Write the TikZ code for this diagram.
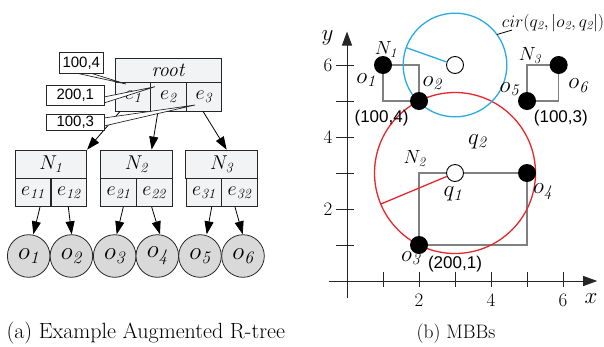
\RequirePackage{fix-cm}
\documentclass[tikz,border=0pt]{standalone}
\usepackage{fontspec}
\newfontfamily\sansf{Liberation Sans}
\usetikzlibrary{arrows.meta,calc}
\definecolor{boxfill}{RGB}{242,243,245}
\definecolor{objfill}{RGB}{217,217,217}
\definecolor{mbbgray}{RGB}{128,128,128}
\definecolor{cred}{RGB}{232,38,44}
\definecolor{cblue}{RGB}{41,171,226}
\begin{document}
\begin{tikzpicture}[x=1pt,y=-1pt,
  hdr/.style={draw=black!85, fill=boxfill, line width=0.8pt, inner sep=0pt, font=\fontsize{20}{24}\selectfont},
  cell/.style={hdr, minimum width=35.7pt, minimum height=28.3pt},
  objc/.style={circle, draw=black!85, fill=objfill, line width=0.8pt, minimum size=42.6pt, inner sep=0pt, font=\fontsize{25}{30}\selectfont},
  arr/.style={-{Triangle[length=13pt,width=9pt]}, line width=0.8pt},
  callout/.style={draw=black!85, fill=white, line width=0.8pt, inner sep=0pt, font=\sansf\fontsize{15}{18}\selectfont},
  wedgeline/.style={draw=black!85, fill=white, line width=0.7pt},
  axisline/.style={line width=1pt, draw=black!85, -{Triangle[length=14pt,width=10pt]}},
  tickline/.style={line width=1pt, draw=black!85},
  ticklab/.style={font=\fontsize{19}{22}\selectfont},
  mbb/.style={draw=mbbgray, line width=1.6pt},
  blackdot/.style={circle, fill=black, minimum size=18pt, inner sep=0pt},
  hollowdot/.style={circle, draw=black, fill=white, line width=0.9pt, minimum size=17pt, inner sep=0pt},
  olab/.style={font=\fontsize{23}{26}\selectfont},
  nlab/.style={font=\fontsize{19}{22}\selectfont},
  slab/.style={font=\sansf\fontsize{17}{20}\selectfont},
  captext/.style={font=\fontsize{22}{26}\selectfont}
]
\useasboundingbox (0,0) rectangle (604,346);

% ---------- (a) tree ----------
\node[hdr, minimum width=106.7pt, minimum height=24.4pt] (root) at (168.35,70.5) {\textit{root}};
\node[cell] (e1) at (133.1,96.8) {$e_{\mathit{1}}$};
\node[cell] (e2) at (168.4,96.8) {$e_{\mathit{2}}$};
\node[cell] (e3) at (203.8,96.8) {$e_{\mathit{3}}$};

\node[hdr, minimum width=71.7pt, minimum height=28.3pt] (N1) at (50.85,164.2) {$N_{\mathit{1}}$};
\node[cell] (e11) at (32.9,192.5) {$e_{\mathit{11}}$};
\node[cell] (e12) at (68.8,192.5) {$e_{\mathit{12}}$};
\node[hdr, minimum width=71.7pt, minimum height=28.3pt] (N2) at (136.35,164.2) {$N_{\mathit{2}}$};
\node[cell] (e21) at (118.5,192.5) {$e_{\mathit{21}}$};
\node[cell] (e22) at (154.2,192.5) {$e_{\mathit{22}}$};
\node[hdr, minimum width=71.7pt, minimum height=28.3pt] (N3) at (221.65,164.2) {$N_{\mathit{3}}$};
\node[cell] (e31) at (203.8,192.5) {$e_{\mathit{31}}$};
\node[cell] (e32) at (239.5,192.5) {$e_{\mathit{32}}$};

\node[objc] (ob1) at (28.7,256) {$o_{\mathit{1}}$};
\node[objc] (ob2) at (71.4,256) {$o_{\mathit{2}}$};
\node[objc] (ob3) at (114.7,256) {$o_{\mathit{3}}$};
\node[objc] (ob4) at (157.3,256) {$o_{\mathit{4}}$};
\node[objc] (ob5) at (200.0,256) {$o_{\mathit{5}}$};
\node[objc] (ob6) at (243.0,256) {$o_{\mathit{6}}$};

\draw[arr] ($(e1.south)+(-13,0)$) -- (N1.north east);
\draw[arr] ($(e2.south)+(-10.4,0)$) -- ($(N2.north)+(15.3,0)$);
\draw[arr] ($(e3.south)+(-0.8,0)$) -- ($(N3.north)+(5,0)$);

\draw[arr] ($(e11.south)+(7.1,0)$) -- ($(ob1.north)+(4.6,0)$);
\draw[arr] ($(e12.south)+(-0.5,0)$) -- ($(ob2.north)+(0.3,0)$);
\draw[arr] ($(e21.south)+(4.8,0)$) -- ($(ob3.north)+(2,0)$);
\draw[arr] ($(e22.south)+(-2.5,0)$) -- ($(ob4.north)+(2.7,0)$);
\draw[arr] ($(e31.south)+(7.9,0)$) -- ($(ob5.north)+(6.7,0)$);
\draw[arr] ($(e32.south)+(-4.5,0)$) -- ($(ob6.north)+(-0.3,0)$);

% callouts
\coordinate (c1) at (81.3,63);
\coordinate (c2) at (75.3,95);
\coordinate (c3) at (75.3,122);
\coordinate (t1) at (126,84);
\coordinate (t2) at (155,86.7);
\coordinate (t3) at (195,105);
\draw[wedgeline] ($(c1)+(-4,10.3)$) -- (t1) -- ($(c1)+(10,10.3)$);
\draw[wedgeline] ($(c2)+(28.65,2)$) -- (t2) -- ($(c2)+(28.65,8)$);
\draw[wedgeline] ($(c3)+(28.65,-4)$) -- (t3) -- ($(c3)+(28.65,4)$);
\node[callout, minimum width=44pt, minimum height=20.6pt] (k1) at (c1) {100,4};
\node[callout, minimum width=57.3pt, minimum height=20pt] (k2) at (c2) {200,1};
\node[callout, minimum width=57.3pt, minimum height=16pt] (k3) at (c3) {100,3};

\node[captext, anchor=base west] (capa) at (3,338) {(a) Example Augmented R-tree};

% ---------- (b) MBBs ----------
\begin{scope}[shift={(347,281)}, x=36pt, y=36pt]
  \coordinate (xs) at (-0.5,0);
  \coordinate (xe) at (6.95,0);
  \coordinate (ys) at (0,-0.47);
  \coordinate (ye) at (0,6.93);
  \draw[axisline] (xs) -- (xe);
  \draw[axisline] (ys) -- (ye);
  \foreach \i in {1,...,6} {
    \draw[tickline] (\i,0.26) -- (\i,-0.16);
    \draw[tickline] (-0.3,\i) -- (0.2,\i);
  }
  \foreach \i in {2,4,6} {
    \node[ticklab] at (\i,-0.53) {\i};
    \node[ticklab] at (-0.53,\i) {\i};
  }
  \node[font=\fontsize{23}{26}\selectfont] (xl) at (6.78,-0.5) {$x$};
  \node[font=\fontsize{23}{26}\selectfont] (yl) at (-0.54,6.75) {$y$};

  \draw[mbb] (1,5) rectangle (2,6);
  \draw[mbb] (2,1) rectangle (5,3);
  \draw[mbb] (5,5) rectangle (5.88,6);

  \draw[cred, line width=1.3pt] (3,3) circle[radius=2.236];
  \draw[cblue, line width=1.3pt] (3,6) circle[radius=1.44];
  \coordinate (r1) at ($(3,3)+(202.7:2.236)$);
  \coordinate (b1) at ($(3,6)+(160.4:1.44)$);
  \coordinate (b2) at ($(3,6)+(36:1.44)$);

  \node[blackdot] (p1) at (1,6) {};
  \node[blackdot] (p2) at (2,5) {};
  \node[blackdot] (p3) at (2,1) {};
  \node[blackdot] (p4) at (5,3) {};
  \node[blackdot] (p5) at (5,5) {};
  \node[blackdot] (p6) at (5.88,6) {};
  \node[hollowdot] (q1) at (3,3) {};
  \node[hollowdot] (q2) at (3,6) {};
  \draw[cred, line width=1.3pt] (q1) -- (r1);
  \draw[cblue, line width=1.3pt] (q2) -- (b1);

  \node[font=\fontsize{17.5}{21}\selectfont, anchor=west, inner sep=1pt] (cirl) at (4.27,7.17) {$cir(q_{\mathit{2}},|o_{\mathit{2}},q_{\mathit{2}}|)$};
  \coordinate (cl) at (4.58,6.97);
  \draw[line width=0.8pt] (cl) -- (b2);

  \node[nlab] (ln1) at (1.08,6.44) {$N_{\mathit{1}}$};
  \node[olab] (lo1) at (0.53,5.58) {$o_{\mathit{1}}$};
  \node[olab] (lo2) at (2.37,5.49) {$o_{\mathit{2}}$};
  \node[slab] (l14) at (0.96,4.53) {(100,4)};
  \node[nlab] (ln3) at (5.08,6.25) {$N_{\mathit{3}}$};
  \node[olab] (lo5) at (4.51,5.33) {$o_{\mathit{5}}$};
  \node[olab] (lo6) at (6.42,5.42) {$o_{\mathit{6}}$};
  \node[slab] (l13) at (5.94,4.53) {(100,3)};
  \node[olab] (lq2) at (3.62,3.87) {$q_{\mathit{2}}$};
  \node[nlab] (ln2) at (1.88,3.39) {$N_{\mathit{2}}$};
  \node[olab] (lq1) at (2.94,2.42) {$q_{\mathit{1}}$};
  \node[olab] (lo4) at (5.44,2.48) {$o_{\mathit{4}}$};
  \node[olab] (lo3) at (1.77,0.64) {$o_{\mathit{3}}$};
  \node[slab] (l21) at (3.0,0.47) {(200,1)};
\end{scope}

\node[font=\fontsize{19.5}{22}\selectfont, anchor=base] (capb) at (456,338) {(b) MBBs};
\end{tikzpicture}
\end{document}
